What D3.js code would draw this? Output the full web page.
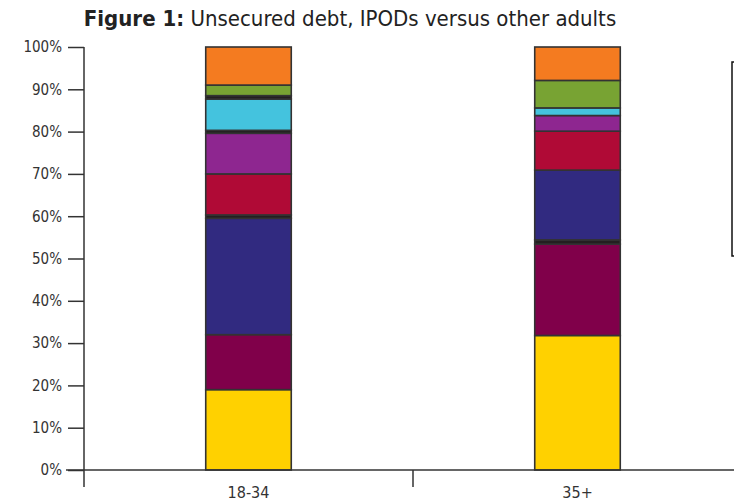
<!DOCTYPE html>
<html><head><meta charset="utf-8">
<script src="https://cdn.jsdelivr.net/npm/d3@7"></script>
<style>body{margin:0;background:#fff}svg{display:block}</style>
</head><body>
<svg id="c" width="734" height="504"></svg>
<script>
const categories = ["18-34", "35+"];
// stack order bottom -> top
const seriesKeys = ["s1","s2","s3","s4","s5","s6","s7","s8","s9","s10","s11","s12"];
const seriesColors = ["#FFD100","#80004A","#231F20","#312A80","#231F20","#B00A36","#8E2690","#231F20","#44C3DE","#231F20","#78A333","#F47B20"];
const values1834 = [19, 13, 0, 27.5, 0.8, 9.7, 9.6, 0.7, 7.4, 0.8, 2.5, 9];
const values35 = [31.8, 21.6, 1.0, 16.5, 0, 9.2, 3.7, 0, 1.8, 0, 6.5, 7.9];
const yTicks = [0,10,20,30,40,50,60,70,80,90,100];
const titleBold = "Figure 1:";
const titleRest = " Unsecured debt, IPODs versus other adults";

const rows = [values1834, values35].map((v,i)=>{
  const o = {cat: categories[i]};
  seriesKeys.forEach((k,j)=>o[k]=v[j]);
  return o;
});

const svg = d3.select("#c");
const font = "'Liberation Sans Narrow','DejaVu Sans Condensed','Roboto',sans-serif";

const x = d3.scaleBand().domain(categories).range([84, 742]).paddingInner(0.74).paddingOuter(0.37);
const y = d3.scaleLinear().domain([0,100]).range([470, 47]);

// title
const t = svg.append("text").attr("x", 350).attr("y", 26).attr("text-anchor","middle")
  .style("font-family", font).style("font-size","22px").attr("fill","#222");
t.append("tspan").attr("font-weight","bold").text(titleBold);
t.append("tspan").text(titleRest);

// stacked bars
const stack = d3.stack().keys(seriesKeys)(rows);
stack.forEach((layer,j)=>{
  svg.append("g").selectAll("rect").data(layer.filter(d=>d[1]-d[0]>0)).join("rect")
    .attr("x", d=>x(d.data.cat))
    .attr("width", x.bandwidth())
    .attr("y", d=>y(d[1]))
    .attr("height", d=>y(d[0])-y(d[1]))
    .attr("fill", seriesColors[j])
    .attr("stroke", "#333").attr("stroke-width", 1.6);
});

// y axis
const ya = svg.append("g").attr("transform","translate(84,0)")
  .call(d3.axisLeft(y).tickValues(yTicks).tickFormat(d=>d+"%").tickSize(16).tickSizeOuter(0));
ya.select(".domain").remove();
ya.append("line").attr("x1",0).attr("x2",0).attr("y1",47).attr("y2",487).attr("stroke","#333").attr("stroke-width",1.5);
ya.selectAll(".tick line").attr("stroke","#333").attr("stroke-width",1.5);
ya.selectAll(".tick text").attr("x",-22).attr("fill","#333")
  .style("font-family", font).style("font-size","15px");

// x axis
const xa = svg.append("g").attr("transform","translate(0,470)");
xa.append("line").attr("x1",66).attr("x2",734).attr("y1",0).attr("y2",0).attr("stroke","#333").attr("stroke-width",1.5);
const mid = (x(categories[0]) + x.bandwidth()/2 + x(categories[1]) + x.bandwidth()/2)/2;
xa.append("line").attr("x1",mid).attr("x2",mid).attr("y1",0).attr("y2",17).attr("stroke","#333").attr("stroke-width",1.5);
xa.selectAll("text.cat").data(categories).join("text").attr("class","cat")
  .attr("x", d=>x(d)+x.bandwidth()/2).attr("y", 28).attr("text-anchor","middle")
  .attr("fill","#333").style("font-family", font).style("font-size","16px").text(d=>d);

// cropped legend box edge
svg.append("rect").attr("x",732).attr("y",62).attr("width",20).attr("height",194)
  .attr("fill","none").attr("stroke","#111").attr("stroke-width",1.5);
</script>
</body></html>
